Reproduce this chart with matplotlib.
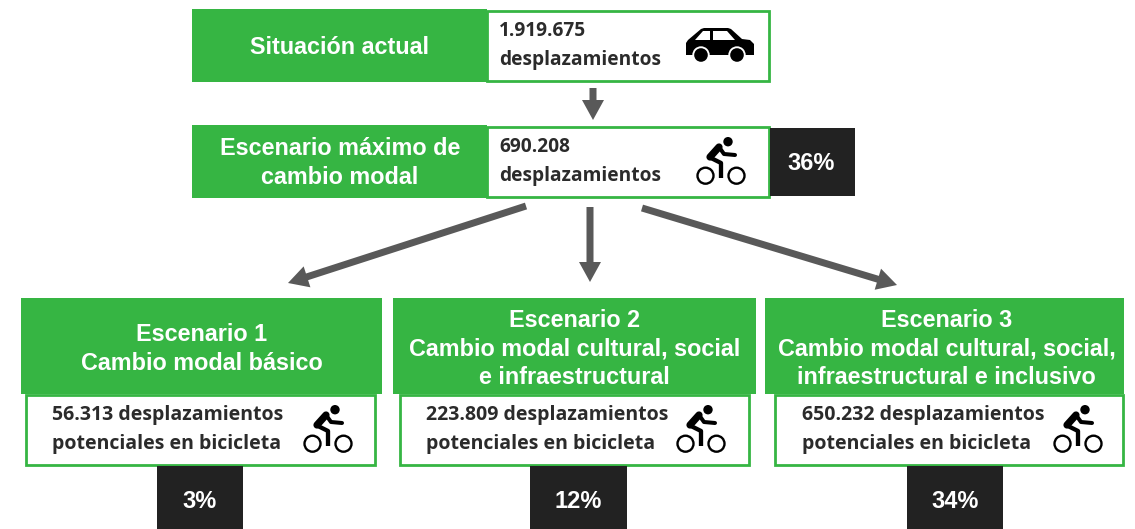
import matplotlib
matplotlib.use("Agg")
import matplotlib.pyplot as plt
from matplotlib.patches import Rectangle, Circle, Polygon, FancyArrow

GREEN = "#36B543"
DARK = "#222222"
GRIS = "#595959"
TXT = "#2B2B2B"

top_titles = ["Situación actual", "Escenario máximo de\ncambio modal"]
top_values = ["1.919.675\ndesplazamientos", "690.208\ndesplazamientos"]
top_pct = "36%"

esc_titles = ["Escenario 1\nCambio modal básico",
              "Escenario 2\nCambio modal cultural, social\ne infraestructural",
              "Escenario 3\nCambio modal cultural, social,\ninfraestructural e inclusivo"]
esc_values = ["56.313 desplazamientos\npotenciales en bicicleta",
              "223.809 desplazamientos\npotenciales en bicicleta",
              "650.232 desplazamientos\npotenciales en bicicleta"]
esc_pct = ["3%", "12%", "34%"]

fig = plt.figure(figsize=(11.35, 5.29), dpi=100)
ax = fig.add_axes([0, 0, 1, 1])
ax.set_xlim(0, 1135)
ax.set_ylim(529, 0)
ax.axis("off")


def rect(x0, y0, x1, y1, fc, ec="none", lw=0, z=1):
    ax.add_patch(Rectangle((x0, y0), x1 - x0, y1 - y0, fc=fc, ec=ec, lw=lw, zorder=z))


def flecha(x0, y0, x1, y1):
    ax.add_patch(FancyArrow(x0, y0, x1 - x0, y1 - y0, width=7, head_width=22, head_length=20,
                            length_includes_head=True, fc=GRIS, ec="none", zorder=2))


def bici(x, y):
    # x,y = esquina sup. izq. del icono
    for cx in (8.5, 39.5):
        ax.add_patch(Circle((x + cx, y + 38.7), 8, fc="white", ec="black", lw=1.7, zorder=4))
    ax.add_patch(Circle((x + 31, y + 4.7), 4.7, fc="black", ec="none", zorder=5))
    ax.plot([x + 22, x + 13], [y + 10, y + 20], color="black", lw=5.2, solid_capstyle="round", zorder=5)
    ax.plot([x + 22, x + 27, x + 38], [y + 10, y + 17, y + 18], color="black", lw=2.9,
            solid_capstyle="round", solid_joinstyle="round", zorder=5)
    ax.plot([x + 12, x + 24, x + 24], [y + 20, y + 26, y + 41], color="black", lw=3.1,
            solid_capstyle="butt", solid_joinstyle="round", zorder=5)


def coche(x, y):
    # x,y = esquina sup. izq. del icono
    cuerpo = [(0, 15), (2, 12), (15, 1), (18, 0), (42, 0), (45, 1), (56, 11), (64, 12), (68, 16), (68, 27), (0, 27)]
    ax.add_patch(Polygon([(x + a, y + b) for a, b in cuerpo], fc="black", ec="none", zorder=4))
    for vent in ([(9, 12), (17, 3), (24, 3), (24, 12)], [(27, 3), (41, 3), (49, 12), (27, 12)]):
        ax.add_patch(Polygon([(x + a, y + b) for a, b in vent], fc="white", ec="none", zorder=5))
    for cx in (15, 51):
        ax.add_patch(Circle((x + cx, y + 27), 8.7, fc="white", ec="none", zorder=6))
        ax.add_patch(Circle((x + cx, y + 27), 6.8, fc="black", ec="none", zorder=7))


# fila superior
filas = [(9, 82), (125, 198)]
for (y0, y1), t, v in zip(filas, top_titles, top_values):
    rect(487, y0 + 1.5, 769, y1 - 1, "white", GREEN, 2)
    rect(192, y0, 487, y1, GREEN, z=2)
    ax.text(340, (y0 + y1) / 2 + 1.5, t, color="white", fontsize=16.85, fontweight="bold", family="Liberation Sans",
            ha="center", va="center", linespacing=1.3, zorder=3)
    ax.text(499, (y0 + y1) / 2, v, color=TXT, fontsize=13.8, fontweight="bold", family="Open Sans",
            ha="left", va="center", linespacing=1.6, zorder=3)
rect(770, 128, 855, 196, DARK)
ax.text(811, 164, top_pct, color="white", fontsize=17, fontweight="bold", family="Liberation Sans",
        ha="center", va="center")
coche(686, 28)
bici(697, 137)

flecha(593, 88, 593, 120)
flecha(526, 206, 288, 283)
flecha(590, 207, 590, 282)
flecha(642, 208, 897, 285)

# escenarios
verdes = [(21, 382), (393, 756), (765, 1124)]
blancos = [(26, 375), (400, 749), (775, 1123)]
negros = [(157, 243), (530, 627), (907, 1003)]
texto_x = [52, 426, 802]
titulo_x = [202, 574.5, 946.5]
centro_pct = [200, 578, 955]
iconos = [304, 677, 1054]
for i in range(3):
    rect(blancos[i][0], 395, blancos[i][1], 465, "white", GREEN, 2)
    rect(verdes[i][0], 298, verdes[i][1], 394, GREEN, z=2)
    ax.text(titulo_x[i], 349, esc_titles[i], color="white", fontsize=16.8, fontweight="bold",
            family="Liberation Sans", ha="center", va="center", linespacing=1.3, zorder=3)
    ax.text(texto_x[i], 429.5, esc_values[i], color=TXT, fontsize=14, fontweight="bold", family="Open Sans",
            ha="left", va="center", linespacing=1.58, zorder=3)
    rect(negros[i][0], 466, negros[i][1], 529, DARK)
    ax.text(centro_pct[i], 501, esc_pct[i], color="white", fontsize=17, fontweight="bold",
            family="Liberation Sans", ha="center", va="center")
    bici(iconos[i], 405)

fig.savefig("out.png", dpi=100)
